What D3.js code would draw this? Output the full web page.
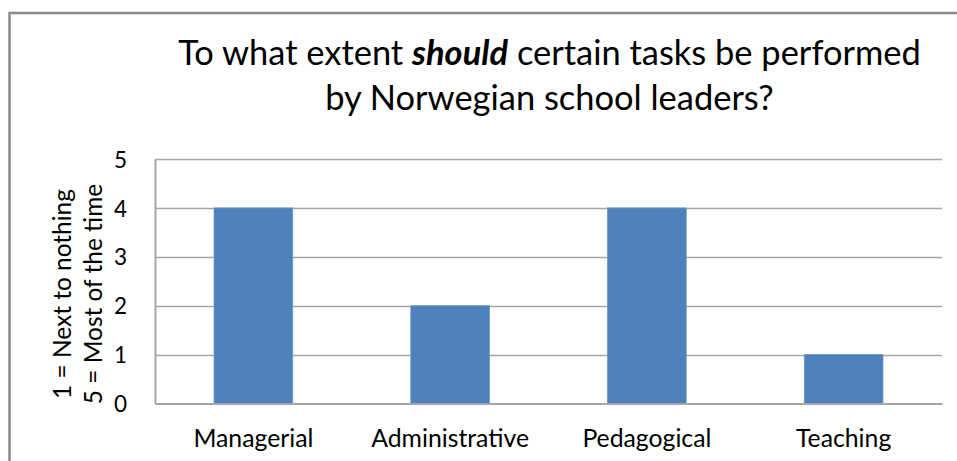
<!DOCTYPE html>
<html>
<head>
<meta charset="utf-8">
<script src="https://cdn.jsdelivr.net/npm/d3@7"></script>
<style>
  html, body { margin: 0; padding: 0; background: #fff; }
  svg { display: block; }
  text { font-family: Lato, "Open Sans", sans-serif; fill: #000; }
</style>
</head>
<body>
<svg id="chart" width="957" height="461"></svg>
<script>
const categories = ["Managerial", "Administrative", "Pedagogical", "Teaching"];
const values = [4, 2, 4, 1];
const yTicks = [0, 1, 2, 3, 4, 5];
const titleParts = [["To what extent ", false], ["should", true], [" certain tasks be performed", false]];
const titleLine2 = "by Norwegian school leaders?";
const yTitleLines = ["1 = Next to nothing", "5 = Most of the time"];

const svg = d3.select("#chart");

// fit font size so text has target width
function fit(sel, target) {
  sel.style("font-size", "100px");
  const len = sel.node().getComputedTextLength();
  const fs = 100 * target / len;
  sel.style("font-size", fs + "px");
  return fs;
}

// chart border
svg.append("rect")
  .attr("x", 9.5).attr("y", 13)
  .attr("width", 960).attr("height", 460)
  .attr("fill", "#fff")
  .attr("stroke", "#8a8a8a")
  .attr("stroke-width", 2.5);

const plot = { left: 155, right: 942, top: 159, bottom: 403.5 };

const x = d3.scaleBand()
  .domain(categories)
  .range([plot.left, plot.right])
  .paddingInner(0.6)
  .paddingOuter(0.3);

const y = d3.scaleLinear()
  .domain([0, 5])
  .range([plot.bottom, plot.top]);

// gridlines
svg.append("g")
  .selectAll("line")
  .data(yTicks.filter(d => d > 0))
  .join("line")
  .attr("x1", plot.left).attr("x2", plot.right)
  .attr("y1", d => Math.round(y(d)) + 0.5).attr("y2", d => Math.round(y(d)) + 0.5)
  .attr("stroke", "#a6a6a6")
  .attr("stroke-width", 1.3);

// bars
svg.append("g")
  .selectAll("rect")
  .data(categories)
  .join("rect")
  .attr("x", d => x(d))
  .attr("width", x.bandwidth())
  .attr("y", (d, i) => y(values[i]))
  .attr("height", (d, i) => y(0) - y(values[i]))
  .attr("fill", "#4f81bd")
  .attr("stroke", "#6a96cc")
  .attr("stroke-width", 0.8);

// y axis
const yAxis = svg.append("g")
  .attr("transform", `translate(${plot.left},0)`)
  .call(d3.axisLeft(y).tickValues(yTicks).tickSize(0).tickPadding(28).tickFormat(d3.format("d")));
yAxis.select(".domain").attr("stroke", "#a6a6a6").attr("stroke-width", 2);
yAxis.selectAll("text")
  .style("font-size", "22.5px")
  .style("font-family", "Lato, sans-serif")
  .attr("fill", "#111")
  .attr("dy", "0.36em");

// x axis
const xAxis = svg.append("g")
  .attr("transform", `translate(0,${plot.bottom})`)
  .call(d3.axisBottom(x).tickSize(0).tickPadding(0));
xAxis.select(".domain").attr("stroke", "#a6a6a6").attr("stroke-width", 2);
const xt = xAxis.selectAll("text")
  .style("font-family", "Lato, sans-serif")
  .attr("fill", "#111")
  .attr("dy", 0)
  .attr("y", 447 - plot.bottom);
const fsX = fit(xAxis.select("text"), 120);
xt.style("font-size", fsX + "px");

// title
const t1 = svg.append("text")
  .attr("x", 549.5).attr("y", 65)
  .attr("text-anchor", "middle");
t1.selectAll("tspan")
  .data(titleParts)
  .join("tspan")
  .text(d => d[0])
  .style("font-weight", d => d[1] ? "bold" : "normal")
  .style("font-style", d => d[1] ? "italic" : "normal");
const fsT = fit(t1, 743);
svg.append("text")
  .attr("x", 549.5).attr("y", 110)
  .attr("text-anchor", "middle")
  .style("font-size", fsT + "px")
  .text(titleLine2);

// y axis title
const yt = svg.append("g").attr("transform", "translate(0,294)");
const ytBase = [71, 102];
let fsY = null;
yTitleLines.forEach((s, i) => {
  const el = yt.append("text")
    .attr("transform", `translate(${ytBase[i]},0) rotate(-90)`)
    .attr("text-anchor", "middle")
    .attr("fill", "#111")
    .text(s);
  if (fsY === null) fsY = fit(el, 210);
  else el.style("font-size", fsY + "px");
});
</script>
</body>
</html>
